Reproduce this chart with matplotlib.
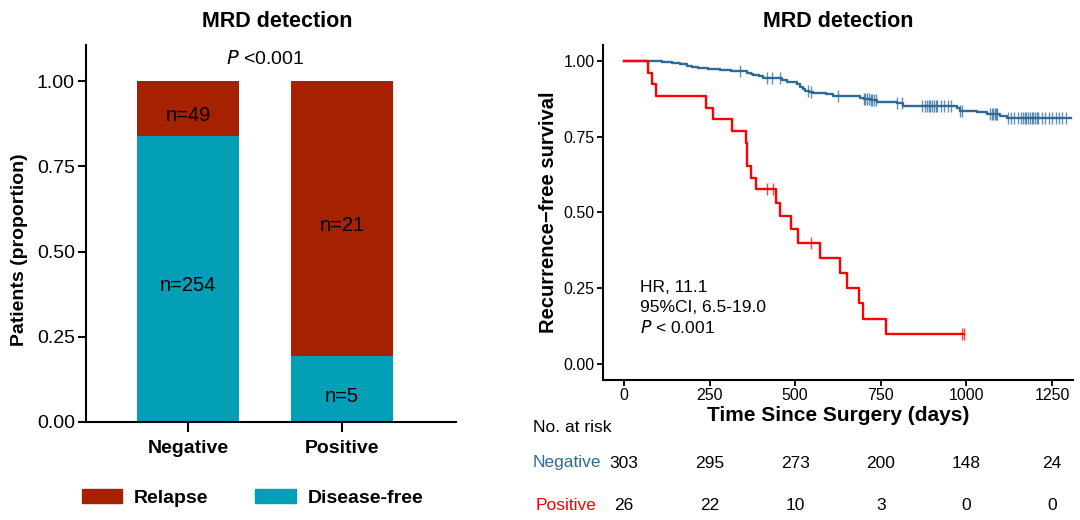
import numpy as np
import matplotlib
matplotlib.use("Agg")
import matplotlib.pyplot as plt
from matplotlib.patches import Patch

plt.rcParams['font.family'] = ['Liberation Sans', 'DejaVu Sans']

# ---- left panel data (stacked proportions) ----
groups = ["Negative", "Positive"]
disease_free = np.array([254, 5])
relapse = np.array([49, 21])

# ---- right panel data (Kaplan-Meier steps) ----
neg_t = [0, 110, 140, 164, 183, 200, 217, 246, 280, 314, 358, 370, 378, 395, 407,
         462, 475, 505, 514, 522, 529, 540, 553, 590, 611, 631, 689, 700, 720, 738,
         796, 816, 972, 981, 1030, 1059, 1098, 1118]
neg_s = [1.0, 0.997, 0.993, 0.990, 0.985, 0.981, 0.978, 0.974, 0.970, 0.966, 0.962,
         0.958, 0.954, 0.950, 0.945, 0.938, 0.932, 0.924, 0.915, 0.908, 0.901, 0.897,
         0.893, 0.890, 0.886, 0.883, 0.879, 0.875, 0.871, 0.866, 0.861, 0.852, 0.844,
         0.835, 0.831, 0.824, 0.818, 0.811]
neg_end = 1305
neg_cens = [339, 417, 431, 456, 536, 546, 626, 700, 705, 710, 715, 720, 725, 730, 735,
            796, 811, 869, 878, 885, 890, 895, 900, 905, 910, 915, 925, 935, 945, 955,
            981, 986, 1070, 1074, 1078, 1082, 1086, 1090, 1120, 1130, 1140, 1150, 1160,
            1165, 1170, 1175, 1180, 1185, 1190, 1195, 1200, 1205, 1210, 1220, 1230,
            1240, 1250, 1260, 1270, 1280, 1290]

pos_t = [0, 70, 81, 95, 239, 259, 316, 355, 358, 372, 387, 443, 456, 487, 507, 572,
         631, 652, 685, 697, 764]
pos_s = [1.0, 0.962, 0.923, 0.885, 0.846, 0.808, 0.769, 0.731, 0.654, 0.615, 0.577,
         0.533, 0.488, 0.444, 0.400, 0.350, 0.300, 0.250, 0.200, 0.150, 0.100]
pos_end = 994
pos_cens = [419, 435, 545, 986, 994]

risk_times = [0, 250, 500, 750, 1000, 1250]
risk_neg = [303, 295, 273, 200, 148, 24]
risk_pos = [26, 22, 10, 3, 0, 0]

c_relapse = "#A62100"
c_free = "#039FB7"
c_neg = "#2D6A98"
c_pos = "#FF0000"

W, H = 1080, 520
fig = plt.figure(figsize=(W / 100, H / 100), dpi=100)

def box(x0, y0, x1, y1):
    # pixel box -> figure fraction rect
    return [x0 / W, 1 - y1 / H, (x1 - x0) / W, (y1 - y0) / H]

# ================= left: stacked bar =================
ax1 = fig.add_axes(box(86, 45, 456, 422))
total = disease_free + relapse
p_free = disease_free / total
p_rel = relapse / total
xpos = np.arange(1, len(groups) + 1)
ax1.bar(xpos, p_free, width=0.66, color=c_free)
ax1.bar(xpos, p_rel, width=0.66, bottom=p_free, color=c_relapse)
for i in range(len(groups)):
    ax1.text(xpos[i], p_free[i] / 2 - 0.02, "n=%d" % disease_free[i], ha='center',
             va='center', fontsize=14.5)
    ax1.text(xpos[i], p_free[i] + p_rel[i] / 2 - 0.02, "n=%d" % relapse[i],
             ha='center', va='center', fontsize=14.5)
ax1.set_xlim(0.338, 2.74)
ax1.set_ylim(0, 1.106)
ax1.set_yticks([0, 0.25, 0.5, 0.75, 1.0])
ax1.set_yticklabels(["0.00", "0.25", "0.50", "0.75", "1.00"], fontsize=14)
ax1.set_xticks(xpos)
ax1.set_xticklabels(groups, fontsize=14, fontweight='bold')
ax1.tick_params(axis='y', length=6, width=1.5, pad=2)
ax1.tick_params(axis='x', length=7, width=1.5, pad=6)
for s in ['top', 'right']:
    ax1.spines[s].set_visible(False)
for s in ['left', 'bottom']:
    ax1.spines[s].set_linewidth(1.5)
ax1.set_ylabel("Patients (proportion)", fontsize=14, fontweight='bold')
ax1.yaxis.set_label_coords(-0.158, 0.456)
ax1.set_title("MRD detection", fontsize=15.5, fontweight='bold', pad=13, x=0.516)
ax1.text(1.5, 1.065, r"$\it{P}$ <0.001", ha='center', va='center', fontsize=14)

handles = [Patch(color=c_relapse), Patch(color=c_free)]
fig.legend(handles, ["Relapse", "Disease-free"], loc='center left',
           bbox_to_anchor=(64 / W, 1 - 498 / H), ncol=2, frameon=False,
           handlelength=2.1, handleheight=0.75, handletextpad=0.6,
           columnspacing=2.4, prop={'size': 14, 'weight': 'bold'})

# ================= right: KM curves =================
ax2 = fig.add_axes(box(603, 45, 1073, 380))

def step_curve(t, s, end):
    t = list(t) + [end]
    s = list(s) + [s[-1]]
    return t, s

def at(t, s, c):
    i = np.searchsorted(t, c, side='right') - 1
    return np.array(s)[i]

tt, ss = step_curve(neg_t, neg_s, neg_end)
ax2.step(tt, ss, where='post', color=c_neg, lw=1.7)
ax2.plot(neg_cens, at(neg_t, neg_s, neg_cens), ls='none', marker='|', ms=8,
         mew=1.0, color=c_neg, alpha=0.75)
tt, ss = step_curve(pos_t, pos_s, pos_end)
ax2.step(tt, ss, where='post', color=c_pos, lw=1.7)
ax2.plot(pos_cens, at(pos_t, pos_s, pos_cens), ls='none', marker='|', ms=8,
         mew=1.0, color=c_pos, alpha=0.75)

ax2.set_xlim(-61, 1311)
ax2.set_ylim(-0.053, 1.053)
ax2.set_xticks(risk_times)
ax2.set_yticks([0, 0.25, 0.5, 0.75, 1.0])
ax2.set_yticklabels(["0.00", "0.25", "0.50", "0.75", "1.00"])
ax2.tick_params(labelsize=11.5, length=4, width=1.3, pad=2)
for s in ['top', 'right']:
    ax2.spines[s].set_visible(False)
for s in ['left', 'bottom']:
    ax2.spines[s].set_linewidth(1.5)
ax2.set_xlabel("Time Since Surgery (days)", fontsize=15, fontweight='bold', labelpad=2)
ax2.set_ylabel("Recurrence\u2212free survival", fontsize=14.5, fontweight='bold',
               labelpad=4)
ax2.set_title("MRD detection", fontsize=15.5, fontweight='bold', pad=13)
ax2.text(47, 0.254, "HR, 11.1", fontsize=12.5, va='center')
ax2.text(47, 0.187, "95%CI, 6.5-19.0", fontsize=12.5, va='center')
ax2.text(47, 0.120, r"$\it{P}$ < 0.001", fontsize=12.5, va='center')

# ---- number at risk table ----
trans = ax2.get_xaxis_transform()
fig.text(533 / W, 1 - 427 / H, "No. at risk", fontsize=12.5, va='center')
fig.text(533 / W, 1 - 463 / H, "Negative", fontsize=12.5, va='center', color=c_neg)
fig.text(536 / W, 1 - 505 / H, "Positive", fontsize=12.5, va='center', color=c_pos)
y_neg = (380 - 463) / (380 - 45)  # axes fraction below the axes
y_pos = (380 - 505) / (380 - 45)
for t, a, b in zip(risk_times, risk_neg, risk_pos):
    ax2.text(t, y_neg, str(a), transform=trans, ha='center', va='center',
             fontsize=12.5, clip_on=False)
    ax2.text(t, y_pos, str(b), transform=trans, ha='center', va='center',
             fontsize=12.5, clip_on=False)

fig.savefig("out.png", dpi=100)
